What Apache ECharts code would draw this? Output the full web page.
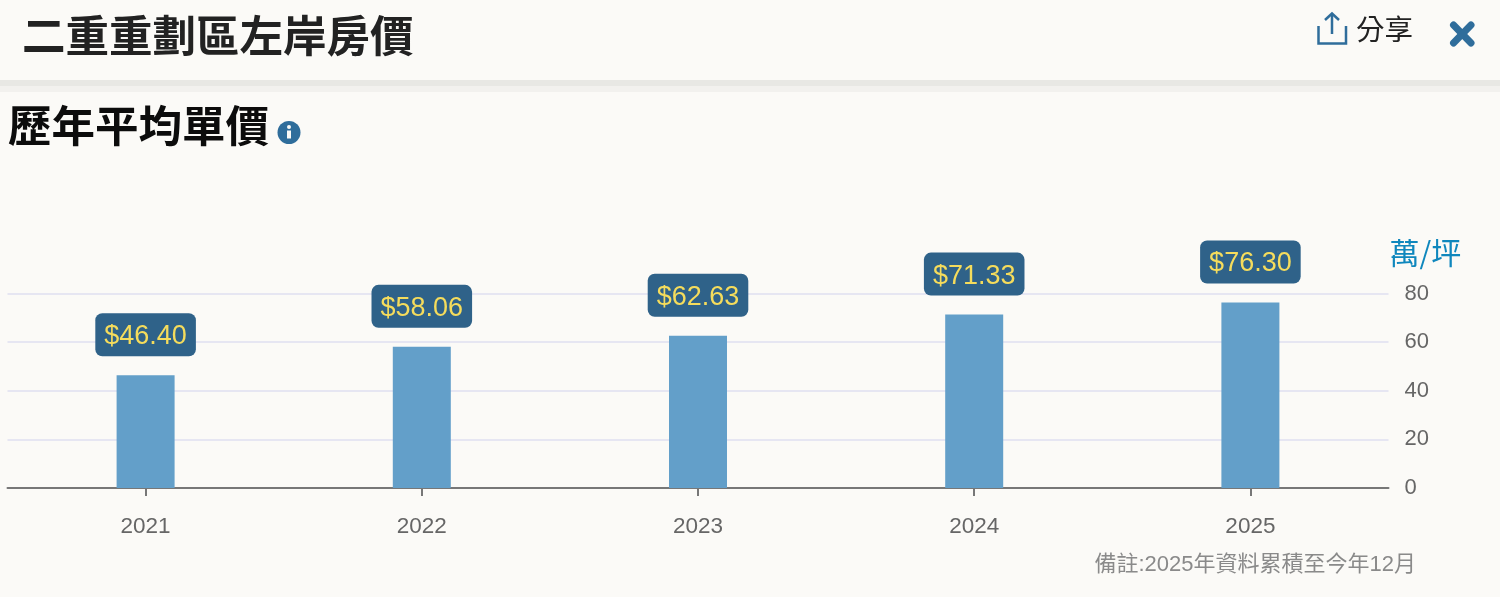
<!DOCTYPE html>
<html>
<head>
<meta charset="utf-8">
<style>html,body{margin:0;padding:0;background:#fbfaf7;}#c{width:1500px;height:597px;}</style>
<script src="https://cdn.jsdelivr.net/npm/echarts@6/dist/echarts.min.js"></script>
</head>
<body>
<div id="c"></div>
<script>
const years = ['2021','2022','2023','2024','2025'];
const prices = [46.40,58.06,62.63,71.33,76.30];
const yMin = 0;
const yMax = 80;
const yStep = 20;
const CJK = '"Noto Sans CJK TC","Liberation Sans",sans-serif';
const LAT = '"Liberation Sans","Noto Sans CJK TC",sans-serif';
const chart = echarts.init(document.getElementById('c'), null, {renderer:'canvas'});
chart.setOption({
  backgroundColor:'#fbfaf7',
  animation:false,
  grid:{left:7.5,right:111.5,top:293.5,bottom:109,containLabel:false},
  title:[
    {text:'二重重劃區左岸房價',left:22,top:14,padding:0,textStyle:{fontFamily:CJK,fontSize:43.5,fontWeight:'bold',color:'#222222'}},
    {text:'歷年平均單價',left:8,top:104,padding:0,textStyle:{fontFamily:CJK,fontSize:43.5,fontWeight:'bold',color:'#0c0c0c'}},
    {text:'分享',left:1356,top:15,padding:0,textStyle:{fontFamily:CJK,fontSize:28.5,fontWeight:'normal',color:'#222222'}},
    {text:'備註:2025年資料累積至今年12月',right:84,top:554,padding:0,textStyle:{fontFamily:LAT,fontSize:22,fontWeight:'normal',color:'#8a8a8a'}}
  ],
  xAxis:{
    type:'category',data:years,
    axisLine:{lineStyle:{color:'#777777',width:2}},
    axisTick:{show:true,alignWithLabel:true,length:8,lineStyle:{color:'#777777',width:2}},
    axisLabel:{fontFamily:LAT,fontSize:22.5,color:'#666666',margin:28},
    splitLine:{show:false}
  },
  yAxis:{
    type:'value',position:'right',min:yMin,max:yMax,interval:yStep,
    name:'萬/坪',
    nameLocation:'end',nameGap:41,
    nameTextStyle:{fontFamily:CJK,fontSize:30,color:'#0f87bd',align:'left',verticalAlign:'middle',padding:[0,0,0,1]},
    axisLine:{show:false},axisTick:{show:false},
    axisLabel:{fontFamily:LAT,fontSize:22,color:'#666666',margin:16},
    splitLine:{lineStyle:{color:'#e6e6f2',width:2}}
  },
  series:[{
    type:'bar',data:prices,barWidth:58,
    itemStyle:{color:'#639fc9'},
    label:{
      show:true,position:'top',distance:19,
      formatter:p=>'$'+p.value.toFixed(2),
      fontFamily:LAT,fontSize:27,color:'#f5dc5c',
      backgroundColor:'#2f6289',borderRadius:7,padding:[10,9,6,9]
    }
  }],
  graphic:[
    {type:'rect',z:-1,silent:true,shape:{x:0,y:80,width:1500,height:6},style:{fill:'#e8e8e4'}},
    {type:'rect',z:-1,silent:true,shape:{x:0,y:86,width:1500,height:6},style:{fill:'#f2f1ee'}},
    {type:'circle',shape:{cx:289,cy:132.5,r:11.5},style:{fill:'#2f6d9b'}},
    {type:'circle',shape:{cx:289,cy:127,r:2},style:{fill:'#fbfaf7'}},
    {type:'rect',shape:{x:287,y:130.5,width:4,height:8},style:{fill:'#fbfaf7'}},
    {type:'polyline',shape:{points:[[1318.5,26],[1318.5,43.5],[1346,43.5],[1346,26]]},style:{stroke:'#2f6d9b',lineWidth:2.5,fill:null}},
    {type:'line',shape:{x1:1332,y1:14,x2:1332,y2:34},style:{stroke:'#2f6d9b',lineWidth:2.5}},
    {type:'polyline',shape:{points:[[1325,20],[1332,13.5],[1339,20]]},style:{stroke:'#2f6d9b',lineWidth:2.5,fill:null}},
    {type:'line',shape:{x1:1453.5,y1:25,x2:1471,y2:43},style:{stroke:'#2f6d9b',lineWidth:7,lineCap:'round'}},
    {type:'line',shape:{x1:1471,y1:25,x2:1453.5,y2:43},style:{stroke:'#2f6d9b',lineWidth:7,lineCap:'round'}}
  ]
});
</script>
</body>
</html>
